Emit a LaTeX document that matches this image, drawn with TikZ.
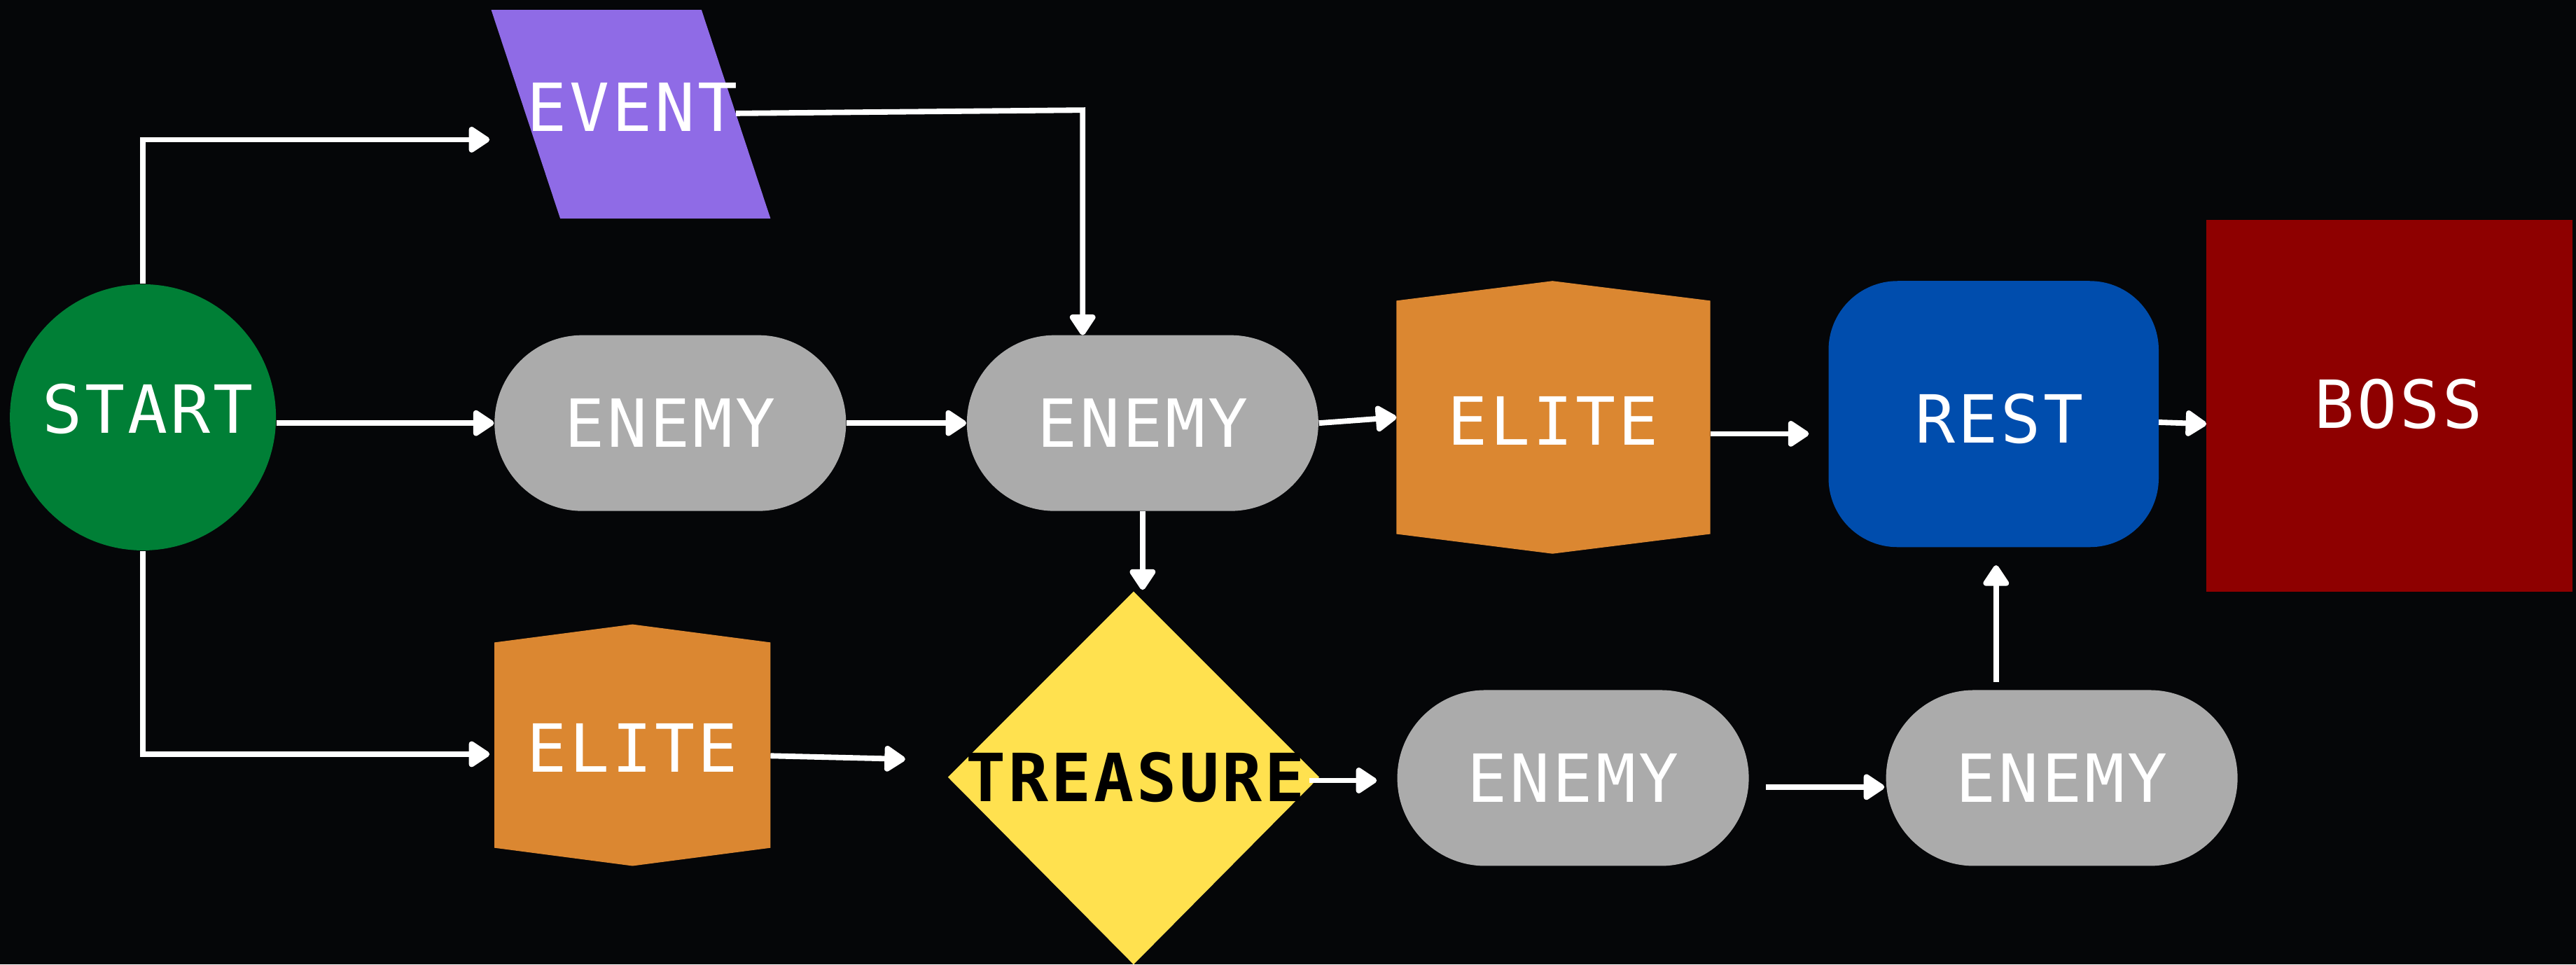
\documentclass[tikz,border=0pt]{standalone}
\usepackage{fontspec}
\usetikzlibrary{arrows.meta,shapes.geometric}
\newfontfamily\lblfont[LetterSpace=4.2]{DejaVu Sans Mono}
\definecolor{bg}{HTML}{050608}
\definecolor{startgreen}{HTML}{007F36}
\definecolor{eventpurple}{HTML}{8F6BE6}
\definecolor{enemygray}{HTML}{ABABAB}
\definecolor{eliteorange}{HTML}{DB8731}
\definecolor{restblue}{HTML}{004DAD}
\definecolor{bossred}{HTML}{8E0000}
\definecolor{treasureyellow}{HTML}{FFE14F}
\begin{document}
\begin{tikzpicture}[x=0.02cm,y=-0.02cm,
  lbl/.style={text=white,font=\lblfont\fontsize{23}{27}\selectfont,inner sep=0pt},
  arr/.style={draw=white,line width=1.9pt,-{Triangle[round,length=8pt,width=10pt]}},
  stadium/.style={fill=enemygray,rounded corners=1.07cm,minimum width=4.28cm,minimum height=2.14cm}]
\useasboundingbox (0,0) rectangle (1568,587);
\fill[bg] (0,0) rectangle (1568,587);
% nodes
\node[lbl,circle,fill=startgreen,minimum size=3.24cm] (start) at (87,254) {};
\node[lbl] (startlbl) at (90,249) {START};
\fill[eventpurple] (299,6) -- (427,6) -- (469,133) -- (341,133) -- cycle;
\node[lbl] (event) at (385,65) {EVENT};
\node[lbl,stadium] (enemyA) at (408,257.5) {ENEMY};
\node[lbl,stadium] (enemyB) at (695.5,257.5) {ENEMY};
\fill[eliteorange] (850,183) -- (945,171) -- (1041,183) -- (1041,325) -- (945,337) -- (850,325) -- cycle;
\node[lbl] (eliteA) at (945.5,256) {ELITE};
\node[lbl,fill=restblue,rounded corners=0.84cm,minimum width=4.02cm,minimum height=3.24cm] (rest) at (1213.5,252) {};
\node[lbl] (restlbl) at (1217,255) {REST};
\node[lbl,fill=bossred,minimum width=4.46cm,minimum height=4.52cm] (boss) at (1454.5,247) {};
\node[lbl] (bosslbl) at (1460,246) {BOSS};
\fill[eliteorange] (301,391) -- (385,380) -- (469,391) -- (469,516) -- (385,527) -- (301,516) -- cycle;
\node[lbl] (eliteB) at (385,455) {ELITE};
\fill[treasureyellow] (690,360) -- (803,473) -- (690,587) -- (577,473) -- cycle;
\node[lbl,text=black,font=\lblfont\bfseries\fontsize{23}{27}\selectfont] (treasure) at (691,473) {TREASURE};
\node[lbl,stadium] (enemyC) at (957.5,473.5) {ENEMY};
\node[lbl,stadium] (enemyD) at (1255,473.5) {ENEMY};
% connector ends
\coordinate (evIn) at (298,85);
\coordinate (evOut) at (448,69);
\coordinate (evBend) at (659,67);
\coordinate (bTop) at (659,204);
\coordinate (eliteAin) at (850,254);
\coordinate (eliteAout) at (1041,264);
\coordinate (restIn) at (1101,264);
\coordinate (restOut) at (1314,257);
\coordinate (bossIn) at (1343,258);
\coordinate (tTop) at (695.5,359);
\coordinate (eliteBin) at (298,459);
\coordinate (eliteBout) at (469,460);
\coordinate (eliteBend) at (551,462);
\coordinate (tOut) at (797,475);
\coordinate (cIn) at (838,475);
\coordinate (cOut) at (1075,479);
\coordinate (dIn) at (1147,479);
\coordinate (dOut) at (1215,415);
\coordinate (restBot) at (1215,344);
% connectors
\draw[arr] (start.north) |- (evIn);
\draw[arr] (evOut) -- (evBend) -- (bTop);
\draw[arr] (start.east |- enemyA.west) -- (enemyA.west);
\draw[arr] (enemyA.east) -- (enemyB.west);
\draw[arr] (enemyB.east) -- (eliteAin);
\draw[arr] (eliteAout) -- (restIn);
\draw[arr] (restOut) -- (bossIn);
\draw[arr] (enemyB.south) -- (tTop);
\draw[arr] (start.south) |- (eliteBin);
\draw[arr] (eliteBout) -- (eliteBend);
\draw[arr] (tOut) -- (cIn);
\draw[arr] (cOut) -- (dIn);
\draw[arr] (dOut) -- (restBot);
\end{tikzpicture}
\end{document}
